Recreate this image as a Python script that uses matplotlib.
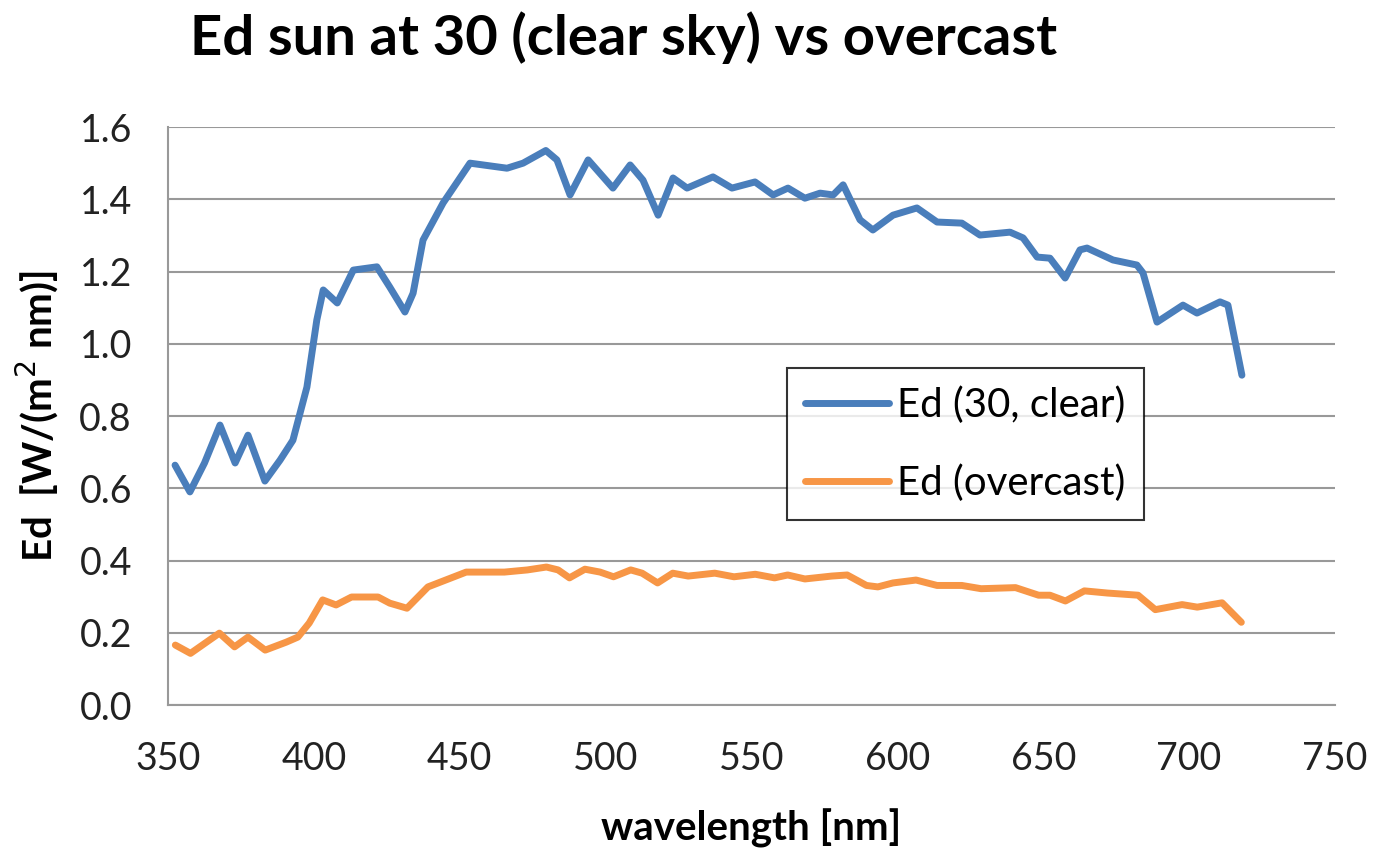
import matplotlib
matplotlib.use("Agg")
import matplotlib.pyplot as plt
import numpy as np

plt.rcParams['font.family'] = ['Lato', 'DejaVu Sans']

# valores (longitud de onda en nm, Ed en W/(m2 nm))
wl_clear = [352.4, 357.5, 362.5, 367.8, 373.0, 377.4, 383.2, 388.4, 392.8, 397.6,
            401.0, 403.2, 408.0, 413.5, 421.6, 426.0, 431.2, 434.0, 437.4, 444.3,
            453.5, 466.2, 471.7, 479.5, 483.3, 487.8, 494.0, 502.5, 508.4, 512.8,
            518.0, 523.1, 527.9, 536.8, 543.3, 551.2, 557.4, 562.5, 568.3, 573.5,
            578.0, 581.4, 587.2, 591.6, 598.5, 606.7, 613.6, 622.1, 628.3, 638.6,
            643.1, 647.9, 652.3, 657.5, 662.6, 665.0, 673.9, 682.1, 684.2, 689.0,
            697.9, 702.7, 710.6, 713.3, 718.1]
ed_clear = [0.664, 0.590, 0.670, 0.775, 0.670, 0.747, 0.620, 0.678, 0.733, 0.880,
            1.066, 1.149, 1.113, 1.204, 1.213, 1.157, 1.088, 1.140, 1.287, 1.390,
            1.500, 1.486, 1.500, 1.535, 1.509, 1.412, 1.509, 1.431, 1.495, 1.453,
            1.356, 1.459, 1.431, 1.462, 1.431, 1.448, 1.412, 1.431, 1.403, 1.417,
            1.412, 1.440, 1.343, 1.315, 1.356, 1.376, 1.337, 1.334, 1.301, 1.309,
            1.293, 1.240, 1.237, 1.182, 1.260, 1.265, 1.232, 1.218, 1.196, 1.060,
            1.107, 1.085, 1.116, 1.107, 0.913]

wl_over = [352.5, 357.7, 367.6, 372.8, 377.4, 383.3, 390.5, 394.5, 398.4, 403.0,
           407.6, 412.9, 422.0, 426.0, 431.9, 439.1, 452.2, 465.3, 473.2, 479.7,
           483.7, 487.6, 492.9, 498.1, 502.7, 508.6, 512.5, 517.8, 523.0, 528.3,
           537.4, 544.0, 551.3, 557.9, 562.4, 568.3, 577.5, 582.8, 589.4, 593.3,
           598.5, 606.4, 613.6, 622.1, 628.7, 640.5, 648.4, 652.3, 657.6, 664.1,
           672.0, 682.5, 688.4, 697.6, 702.8, 711.3, 717.9]
ed_over = [0.166, 0.143, 0.199, 0.161, 0.188, 0.152, 0.174, 0.188, 0.227, 0.291,
           0.277, 0.299, 0.299, 0.282, 0.268, 0.327, 0.368, 0.368, 0.374, 0.382,
           0.374, 0.352, 0.376, 0.368, 0.355, 0.374, 0.365, 0.338, 0.365, 0.357,
           0.365, 0.355, 0.362, 0.352, 0.360, 0.349, 0.357, 0.360, 0.331, 0.327,
           0.338, 0.346, 0.331, 0.331, 0.322, 0.325, 0.304, 0.304, 0.288, 0.316,
           0.310, 0.304, 0.264, 0.278, 0.271, 0.283, 0.229]

etiquetas = ['Ed (30, clear)', 'Ed (overcast)']

fig = plt.figure(figsize=(13.74, 8.48), dpi=100)
ax = fig.add_axes([0.1223, 0.1686, 0.8493, 0.6816])

ax.plot(wl_clear, ed_clear, color='#4a7ebb', lw=5, solid_joinstyle='round',
        solid_capstyle='round', label=etiquetas[0], zorder=3)
ax.plot(wl_over, ed_over, color='#f79646', lw=5, solid_joinstyle='round',
        solid_capstyle='round', label=etiquetas[1], zorder=3)

ax.set_xlim(350, 750)
ax.set_ylim(0, 1.6)
ax.set_xticks(np.arange(350, 751, 50))
ax.set_yticks(np.arange(0, 1.61, 0.2))
ax.yaxis.set_major_formatter(matplotlib.ticker.FormatStrFormatter('%.1f'))
ax.grid(axis='y', color='#999999', lw=1.5)
ax.set_axisbelow(True)
for lado in ['top', 'right']:
    ax.spines[lado].set_visible(False)
for lado in ['left', 'bottom']:
    ax.spines[lado].set_color('#999999')
    ax.spines[lado].set_linewidth(1.5)
ax.tick_params(length=0, labelsize=27, colors='#222222')
ax.tick_params(axis='x', pad=26)
ax.tick_params(axis='y', pad=26)

ax.set_xlabel('wavelength [nm]', fontsize=29, fontweight='bold')
ax.set_ylabel('Ed  [W/(m$^2$ nm)]', fontsize=29, fontweight='bold')
ax.xaxis.set_label_coords(0.5, -0.18)
ax.yaxis.set_label_coords(-0.093, 0.5)

fig.text(190 / 1374, 1 - 38 / 848, 'Ed sun at 30 (clear sky) vs overcast',
         fontsize=40.5, fontweight='bold', ha='left', va='center')

leg = ax.legend(loc='upper left', bbox_to_anchor=(0.530, 0.583), fontsize=29,
                frameon=True, fancybox=False, handlelength=2.1, handletextpad=0.2,
                labelspacing=1.0, borderpad=0.45, borderaxespad=0)
leg.get_frame().set_edgecolor('black')
leg.get_frame().set_linewidth(1.5)

fig.savefig('out.png', dpi=100)
